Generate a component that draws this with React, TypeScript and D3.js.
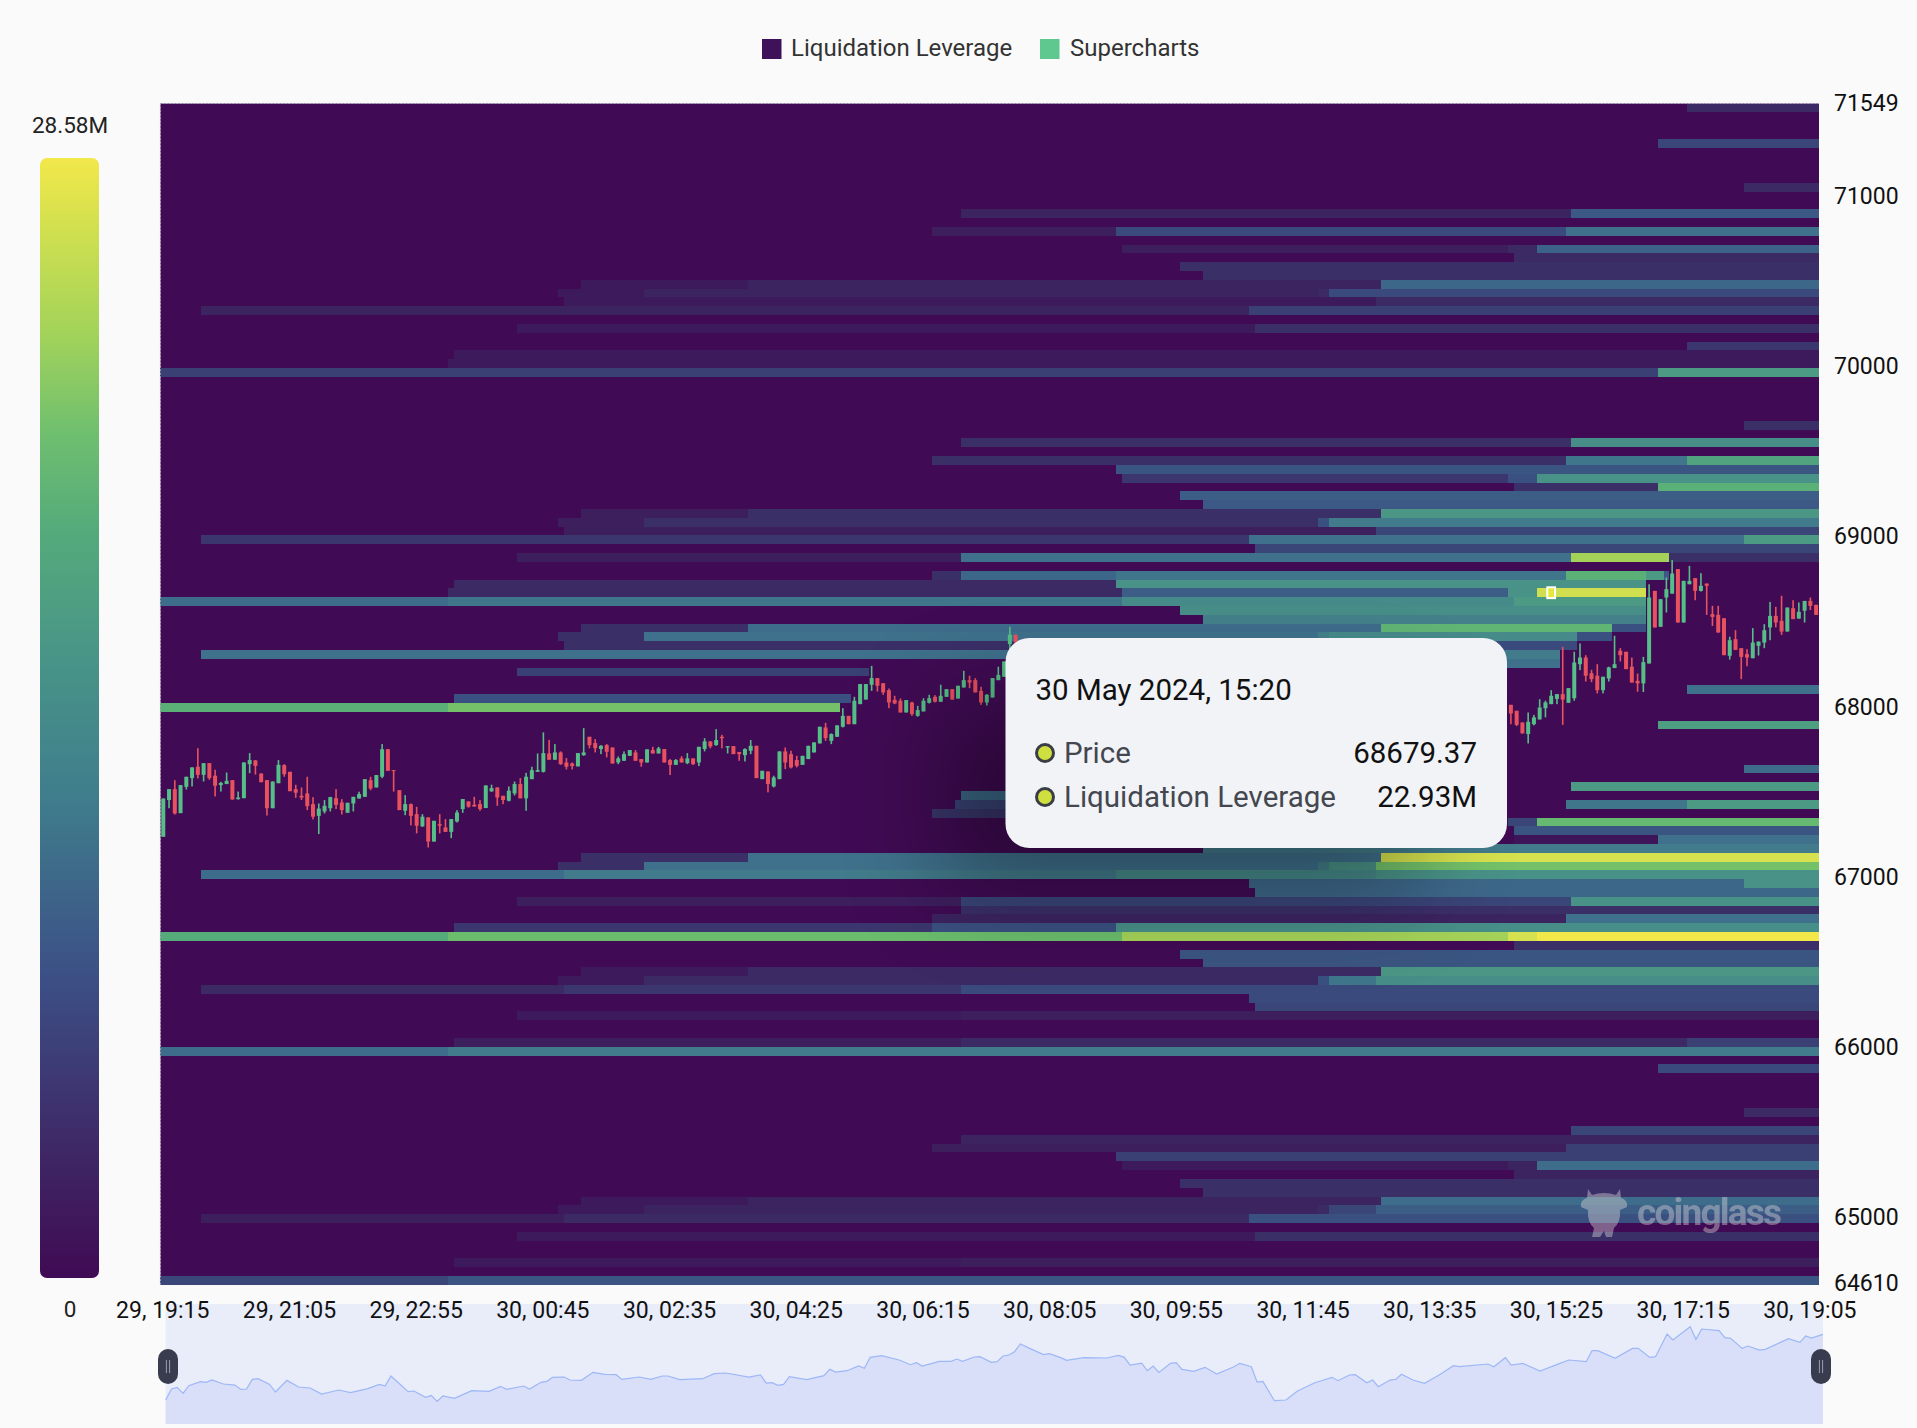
import { useEffect, useRef } from 'react';
import * as d3 from 'd3';

const WIDTH = 1917;
const HEIGHT = 1428;
const FONT = 'Roboto, sans-serif';

const legendNames = ['Liquidation Leverage', 'Supercharts'];
const xLabels = ['29, 19:15', '29, 21:05', '29, 22:55', '30, 00:45', '30, 02:35', '30, 04:25', '30, 06:15', '30, 08:05', '30, 09:55', '30, 11:45', '30, 13:35', '30, 15:25', '30, 17:15', '30, 19:05'];
const priceTicks = [71549, 71000, 70000, 69000, 68000, 67000, 66000, 65000, 64610];

// value (M) to colour, picked from the heat cells
const heatValues = [0, 1.5, 2.5, 3.5, 4.5, 6, 8, 9.5, 12, 14, 16, 18, 20, 23, 28.58];
const heatColors = ['#400b54', '#3d1a5b', '#3c2460', '#3b2f68', '#3a3f74', '#3a5080', '#3c6288', '#3f718c', '#468a89', '#4c9a84', '#55ab7a', '#6bbd6d', '#8ecb5c', '#cfdf4f', '#f2e84a'];
const legendStops: [number, string][] = [[0, '#f2e84a'], [0.067, '#cfdf4f'], [0.156, '#a3d35a'], [0.246, '#6fbf6f'], [0.33, '#55ab7a'], [0.45, '#489488'], [0.57, '#3f7d8c'], [0.73, '#3c5086'], [0.896, '#3e2563'], [1, '#400b54']];

// [row from the top, [[first candle, value in M], ...]]; a value of 0 ends the band
const heatRows: [number, number[][]][] = [
  [0, [[265, 3]]],
  [4, [[260, 5]]],
  [9, [[275, 3]]],
  [12, [[139, 2.5], [245, 7]]],
  [14, [[134, 2], [166, 5.5], [244, 9.5]]],
  [16, [[167, 2], [234, 3], [239, 8]]],
  [17, [[235, 3]]],
  [18, [[177, 3.5]]],
  [19, [[181, 3.5]]],
  [20, [[73, 1.5], [102, 2.5], [212, 8.5]]],
  [21, [[69, 1.5], [84, 2.5], [201, 3], [203, 5.5]]],
  [22, [[70, 1.5], [211, 3]]],
  [23, [[7, 2.5], [189, 4.5]]],
  [25, [[62, 1.5], [190, 3.5]]],
  [27, [[265, 4]]],
  [28, [[51, 1.5]]],
  [29, [[50, 1.5]]],
  [30, [[0, 4.5], [260, 14]]],
  [36, [[275, 3.5]]],
  [38, [[139, 3.5], [245, 12.5]]],
  [40, [[134, 3.5], [244, 10], [265, 15]]],
  [41, [[166, 6.5]]],
  [42, [[167, 4], [234, 6], [239, 13]]],
  [43, [[235, 3.5], [260, 16.5]]],
  [44, [[177, 7.5]]],
  [45, [[181, 7]]],
  [46, [[73, 2], [102, 3.5], [212, 13.5]]],
  [47, [[69, 2], [84, 3.5], [201, 6], [203, 10.5]]],
  [48, [[70, 2], [211, 5]]],
  [49, [[7, 4], [189, 9.5], [275, 14]]],
  [50, [[190, 5]]],
  [51, [[62, 2], [139, 9.5], [245, 21], [262, 3.5]]],
  [53, [[134, 3.5], [139, 8.5], [166, 10], [244, 16.5], [258, 14], [261, 7], [262, 0]]],
  [54, [[51, 3], [166, 13], [258, 0]]],
  [55, [[50, 3], [167, 7.5], [234, 13], [239, 23], [258, 0]]],
  [56, [[0, 9], [50, 10], [167, 12], [235, 14], [258, 0]]],
  [57, [[177, 12.5], [258, 0]]],
  [58, [[181, 11], [258, 0]]],
  [59, [[73, 3.5], [102, 9], [212, 17], [252, 6], [258, 0]]],
  [60, [[69, 3.5], [84, 9.5], [201, 11], [203, 12], [246, 6], [252, 0]]],
  [61, [[70, 3.5], [211, 5.5], [246, 0]]],
  [62, [[7, 9.5], [189, 10.5], [243, 0]]],
  [63, [[190, 9.5], [243, 0]]],
  [64, [[62, 4.5], [123, 0]]],
  [66, [[265, 9.5]]],
  [67, [[51, 6], [120, 0]]],
  [68, [[0, 16.5], [50, 18.5], [118, 0]]],
  [70, [[260, 14.5]]],
  [75, [[275, 9]]],
  [77, [[245, 14]]],
  [78, [[139, 9], [190, 0]]],
  [79, [[138, 5], [190, 0], [244, 10], [265, 14]]],
  [80, [[134, 4], [190, 0]]],
  [81, [[234, 5], [239, 17.5]]],
  [82, [[235, 6.5]]],
  [83, [[235, 1], [260, 9.5]]],
  [84, [[181, 10.5]]],
  [85, [[73, 3.5], [102, 9.5], [212, 24]]],
  [86, [[69, 3.5], [84, 9.5], [201, 11], [203, 13], [211, 18.5]]],
  [87, [[7, 9], [70, 10.5], [166, 12], [211, 13]]],
  [88, [[189, 8.5], [275, 13]]],
  [89, [[190, 8.5]]],
  [90, [[62, 2], [139, 5], [245, 13]]],
  [91, [[139, 3.5]]],
  [92, [[134, 2.5], [244, 9.5]]],
  [93, [[51, 4], [134, 6], [166, 12.5]]],
  [94, [[0, 16], [50, 18], [167, 21], [234, 24], [239, 28.58]]],
  [95, [[235, 3.5]]],
  [96, [[177, 6.5]]],
  [97, [[181, 6.5]]],
  [98, [[73, 1.5], [102, 3], [212, 13.5]]],
  [99, [[69, 1.5], [84, 3], [201, 6], [203, 10], [211, 12.5]]],
  [100, [[7, 3], [70, 4], [139, 5.5]]],
  [101, [[189, 5.5]]],
  [102, [[190, 5]]],
  [103, [[62, 1.5], [139, 2]]],
  [106, [[51, 2], [139, 3], [265, 4.5]]],
  [107, [[0, 9], [50, 10.5]]],
  [109, [[260, 5.5]]],
  [114, [[275, 3]]],
  [116, [[245, 5]]],
  [117, [[139, 2.5]]],
  [118, [[134, 2], [244, 4.5]]],
  [119, [[166, 4.5]]],
  [120, [[167, 1.5], [234, 2.5], [239, 9]]],
  [121, [[235, 2.5]]],
  [122, [[177, 3.5]]],
  [123, [[181, 3.5]]],
  [124, [[73, 1.5], [102, 2.5], [212, 9]]],
  [125, [[69, 1.5], [84, 2.5], [201, 3], [203, 5], [211, 7.5]]],
  [126, [[7, 2], [70, 3], [189, 6]]],
  [128, [[62, 1.5], [190, 3.5]]],
  [131, [[51, 1.5], [139, 2]]],
  [133, [[0, 5], [50, 6.5]]],
];

// [open, close, high, low], one per 5 minute candle
const candlesLeftStart = 0;
const candlesLeft: number[][] = [
  [67234, 67459, 67459, 67234], [67450, 67514, 67514, 67402], [67514, 67371, 67567, 67365], [67373, 67538, 67538, 67373],
  [67528, 67587, 67587, 67512], [67579, 67642, 67642, 67530], [67646, 67598, 67755, 67577], [67598, 67667, 67667, 67559],
  [67667, 67579, 67667, 67569], [67593, 67534, 67628, 67471], [67538, 67551, 67557, 67500], [67544, 67563, 67612, 67544],
  [67567, 67453, 67567, 67453], [67455, 67465, 67500, 67453], [67461, 67671, 67671, 67461], [67661, 67685, 67726, 67608],
  [67683, 67651, 67685, 67600], [67606, 67555, 67606, 67555], [67567, 67402, 67567, 67359], [67402, 67559, 67559, 67402],
  [67549, 67657, 67685, 67549], [67655, 67602, 67661, 67587], [67616, 67502, 67616, 67502], [67514, 67493, 67540, 67463],
  [67475, 67465, 67524, 67450], [67489, 67414, 67587, 67391], [67426, 67352, 67467, 67336], [67357, 67400, 67430, 67250],
  [67383, 67416, 67450, 67371], [67402, 67467, 67469, 67383], [67461, 67422, 67514, 67397], [67436, 67391, 67455, 67365],
  [67375, 67434, 67434, 67375], [67430, 67469, 67469, 67383], [67459, 67485, 67499, 67459], [67469, 67573, 67573, 67469],
  [67567, 67518, 67587, 67508], [67524, 67597, 67597, 67524], [67587, 67749, 67779, 67579], [67749, 67622, 67749, 67622],
  [67626, 67622, 67626, 67500], [67508, 67391, 67508, 67391], [67387, 67426, 67479, 67361], [67426, 67357, 67430, 67301],
  [67367, 67299, 67410, 67254], [67295, 67352, 67367, 67293], [67348, 67206, 67348, 67171], [67206, 67328, 67328, 67206],
  [67308, 67299, 67367, 67254], [67289, 67263, 67338, 67263], [67263, 67338, 67338, 67226], [67324, 67377, 67391, 67318],
  [67397, 67456, 67456, 67375], [67442, 67411, 67442, 67405], [67422, 67412, 67469, 67412], [67426, 67397, 67450, 67387],
  [67403, 67536, 67536, 67403], [67501, 67520, 67540, 67499], [67524, 67465, 67524, 67416], [67475, 67450, 67475, 67426],
  [67446, 67505, 67530, 67442], [67489, 67544, 67559, 67477], [67544, 67460, 67579, 67460], [67460, 67587, 67610, 67387],
  [67573, 67626, 67646, 67573], [67616, 67626, 67724, 67616], [67616, 67726, 67848, 67612], [67724, 67687, 67804, 67687],
  [67687, 67730, 67779, 67687], [67730, 67661, 67736, 67657], [67671, 67646, 67697, 67630], [67665, 67650, 67671, 67630],
  [67648, 67726, 67726, 67648], [67714, 67730, 67873, 67710], [67822, 67773, 67822, 67754], [67785, 67755, 67808, 67730],
  [67750, 67769, 67773, 67720], [67773, 67734, 67779, 67701], [67759, 67665, 67759, 67665], [67671, 67695, 67706, 67661],
  [67681, 67720, 67736, 67681], [67710, 67744, 67744, 67710], [67730, 67681, 67744, 67681], [67691, 67671, 67691, 67646],
  [67671, 67748, 67748, 67671], [67744, 67724, 67763, 67724], [67724, 67754, 67763, 67724], [67750, 67671, 67750, 67671],
  [67685, 67657, 67691, 67597], [67657, 67685, 67691, 67657], [67695, 67671, 67708, 67671], [67667, 67695, 67726, 67661],
  [67695, 67661, 67695, 67656], [67671, 67763, 67763, 67650], [67750, 67795, 67814, 67736], [67795, 67765, 67795, 67754],
  [67773, 67803, 67867, 67769], [67822, 67814, 67834, 67754], [67759, 67767, 67767, 67724], [67767, 67720, 67767, 67720],
  [67732, 67720, 67732, 67681], [67714, 67750, 67754, 67677], [67740, 67769, 67803, 67720], [67769, 67579, 67769, 67579],
  [67573, 67622, 67622, 67573], [67618, 67544, 67618, 67495], [67530, 67583, 67593, 67524], [67573, 67736, 67736, 67573],
  [67736, 67671, 67759, 67632], [67720, 67642, 67740, 67636], [67685, 67651, 67710, 67642], [67657, 67710, 67710, 67657],
  [67691, 67769, 67769, 67691], [67730, 67789, 67789, 67730], [67783, 67881, 67881, 67783], [67877, 67814, 67904, 67798],
  [67798, 67838, 67842, 67779], [67822, 67889, 67889, 67822], [67881, 67945, 67990, 67877], [67945, 67896, 67945, 67896],
  [67896, 68034, 68057, 67896], [68014, 68132, 68132, 68014], [68041, 68132, 68132, 68041], [68128, 68167, 68239, 68092],
  [68167, 68122, 68167, 68088], [68137, 68083, 68137, 68069], [68096, 68024, 68106, 67990], [68039, 68018, 68063, 68014],
  [68034, 67965, 68047, 67965], [67965, 68038, 68038, 67965], [68024, 67955, 68028, 67945], [67945, 67979, 68004, 67940],
  [67971, 68034, 68049, 67971], [68022, 68049, 68069, 68018], [68057, 68028, 68067, 68024], [68028, 68063, 68128, 68028],
  [68057, 68102, 68102, 68057], [68102, 68041, 68102, 68041], [68047, 68122, 68122, 68047], [68112, 68155, 68210, 68112],
  [68155, 68141, 68181, 68108], [68155, 68083, 68167, 68083], [68092, 68024, 68116, 68010], [68024, 68069, 68073, 68006],
  [68053, 68167, 68167, 68053], [68155, 68186, 68234, 68155], [68175, 68265, 68265, 68175], [68367, 68422, 68469, 68328],
  [68422, 68377, 68422, 68377],
];

const candlesRightStart = 234;
const candlesRight: number[][] = [
  [68010, 67959, 68010, 67896], [67975, 67892, 67975, 67885], [67906, 67842, 67906, 67842], [67838, 67910, 67965, 67783],
  [67896, 67936, 67951, 67889], [67924, 67994, 68043, 67924], [67990, 68024, 68034, 67936], [68014, 68063, 68096, 68014],
  [68045, 68073, 68073, 68014], [68073, 68041, 68351, 67892], [68022, 68108, 68108, 68022], [68049, 68259, 68322, 68034],
  [68249, 68288, 68371, 68214], [68288, 68181, 68302, 68147], [68196, 68161, 68216, 68143], [68181, 68096, 68249, 68077],
  [68096, 68175, 68175, 68077], [68165, 68230, 68234, 68147], [68226, 68249, 68416, 68226], [68328, 68302, 68343, 68265],
  [68322, 68220, 68322, 68220], [68234, 68141, 68288, 68141], [68151, 68136, 68194, 68087], [68136, 68261, 68292, 68085],
  [68253, 68641, 68719, 68253], [68680, 68465, 68680, 68465], [68469, 68631, 68631, 68469], [68641, 68690, 68759, 68553],
  [68664, 68782, 68861, 68664], [68808, 68494, 68808, 68494], [68494, 68739, 68739, 68494], [68719, 68739, 68827, 68719],
  [68755, 68680, 68755, 68625], [68680, 68710, 68784, 68676], [68723, 68710, 68723, 68539], [68543, 68527, 68592, 68474],
  [68539, 68435, 68592, 68435], [68519, 68302, 68519, 68302], [68298, 68390, 68410, 68276], [68396, 68333, 68449, 68333],
  [68343, 68292, 68343, 68161], [68308, 68288, 68337, 68237], [68284, 68376, 68461, 68284], [68357, 68382, 68382, 68300],
  [68376, 68449, 68484, 68343], [68465, 68533, 68615, 68390], [68533, 68494, 68586, 68465], [68504, 68441, 68651, 68421],
  [68441, 68582, 68582, 68441], [68578, 68514, 68625, 68514], [68517, 68557, 68612, 68517], [68563, 68621, 68621, 68494],
  [68621, 68592, 68641, 68567], [68598, 68539, 68598, 68539],
];

// [candle, price] for the overview strip under the chart
const overview: [number, number][] = [
  [0, 67459], [1, 67671], [2, 67703], [3, 67587], [4, 67735], [6, 67811], [7, 67799], [8, 67844], [10, 67767], [12, 67747],
  [13, 67664], [14, 67671], [15, 67856], [16, 67869], [18, 67760], [19, 67613], [21, 67837], [23, 67709], [25, 67690], [27, 67574],
  [30, 67651], [32, 67600], [35, 67677], [37, 67760], [38, 67728], [39, 67921], [42, 67619], [43, 67632], [45, 67510], [46, 67549],
  [47, 67433], [48, 67536], [50, 67491], [53, 67638], [56, 67626], [58, 67722], [59, 67664], [62, 67728], [63, 67671], [65, 67799],
  [66, 67818], [67, 67895], [69, 67901], [70, 67844], [72, 67837], [74, 67991], [76, 67952], [78, 67946], [79, 67856], [82, 67901],
  [84, 67856], [86, 67921], [87, 67921], [89, 67850], [93, 67869], [95, 67965], [97, 67978], [101, 67901], [103, 67940], [104, 67786],
  [105, 67792], [106, 67741], [107, 67760], [108, 67908], [111, 67850], [114, 67927], [115, 68049], [116, 67997], [118, 68023], [120, 68113],
  [121, 68068], [122, 68279], [124, 68311], [127, 68228], [129, 68138], [130, 68177], [131, 68113], [134, 68202], [136, 68202], [137, 68247],
  [138, 68203], [140, 68286], [141, 68292], [143, 68183], [144, 68196], [145, 68305], [146, 68324], [147, 68388], [148, 68536], [150, 68433],
  [152, 68331], [153, 68350], [155, 68273], [156, 68222], [159, 68273], [163, 68267], [165, 68318], [166, 68279], [167, 68132], [169, 68170],
  [170, 68023], [171, 68113], [172, 67991], [174, 68164], [175, 68177], [176, 68049], [178, 68010], [180, 68087], [182, 67959], [185, 68100],
  [186, 68164], [188, 68100], [189, 67805], [190, 67818], [192, 67446], [194, 67459], [196, 67632], [199, 67792], [200, 67824], [202, 67895],
  [203, 67831], [205, 67940], [206, 67946], [208, 67792], [209, 67843], [210, 67715], [212, 67843], [213, 67856], [214, 67953], [216, 67843],
  [218, 67780], [220, 67908], [221, 67972], [223, 68119], [224, 68100], [229, 68151], [230, 68100], [232, 68273], [233, 68132], [235, 68164],
  [238, 68017], [241, 68145], [243, 68228], [246, 68196], [247, 68408], [248, 68408], [251, 68260], [254, 68452], [255, 68452], [257, 68279],
  [258, 68292], [260, 68728], [261, 68613], [264, 68869], [265, 68626], [266, 68824], [269, 68792], [270, 68658], [271, 68645], [273, 68452],
  [274, 68497], [276, 68420], [277, 68433], [281, 68638], [283, 68568], [284, 68690], [285, 68651], [287, 68722],
];

// the hovered cell and what the tooltip reads
const hoverCell = { candle: 241, row: 55 };
const tooltipTitle = '30 May 2024, 15:20';
const tooltipRows = [['Price', '68679.37'], ['Liquidation Leverage', '22.93M']];
const colorMaxLabel = '28.58M';
const colorMinLabel = '0';

const App = () => {
  const svgRef = useRef<SVGSVGElement | null>(null);

  useEffect(() => {
    if (!svgRef.current) return;
    const svg = d3.select(svgRef.current);
    svg.selectAll('*').remove();

    const plot = { left: 160.4, right: 1819, top: 103.5, bottom: 1284.7 };
    const x = d3.scaleBand<number>().domain(d3.range(288)).range([plot.left, plot.right]);
    const rows = d3.scaleBand<number>().domain(d3.range(134)).range([plot.top, plot.bottom]);
    const price = d3.scaleLinear().domain([64610, 71549]).range([1283, 103]);
    const heat = d3.scaleLinear<string>().domain(heatValues).range(heatColors);

    svg.append('rect').attr('width', WIDTH).attr('height', HEIGHT).attr('fill', '#fafafa');

    const defs = svg.append('defs');
    const grad = defs.append('linearGradient').attr('id', 'scale').attr('x1', 0).attr('x2', 0).attr('y1', 0).attr('y2', 1);
    legendStops.forEach(([o, c]) => grad.append('stop').attr('offset', o).attr('stop-color', c));
    defs.append('filter').attr('id', 'blur').attr('x', '-60%').attr('y', '-100%').attr('width', '220%').attr('height', '300%')
      .append('feGaussianBlur').attr('stdDeviation', 48);

    // legend on top
    svg.append('rect').attr('x', 762).attr('y', 39).attr('width', 19.5).attr('height', 20).attr('fill', '#3f1158');
    svg.append('rect').attr('x', 1040).attr('y', 39).attr('width', 19.5).attr('height', 20).attr('fill', '#5fc88f');
    const legendText = (tx: number, t: string) => svg.append('text').attr('x', tx).attr('y', 56)
      .attr('font-family', FONT).attr('font-size', 24).attr('fill', '#333').text(t);
    legendText(791, legendNames[0]);
    legendText(1070, legendNames[1]);

    // colour scale on the left
    svg.append('rect').attr('x', 40).attr('y', 158).attr('width', 59).attr('height', 1120).attr('rx', 7).attr('fill', 'url(#scale)');
    const scaleText = (ty: number, t: string) => svg.append('text').attr('x', 70).attr('y', ty).attr('text-anchor', 'middle')
      .attr('font-family', FONT).attr('font-size', 22.5).attr('fill', '#222').text(t);
    scaleText(133, colorMaxLabel);
    scaleText(1317, colorMinLabel);

    // overview strip
    const ovX = d3.scaleLinear().domain([0, 287]).range([165.7, 1823]);
    const ovY = d3.scaleLinear().domain([66998, 69305]).range([1424, 1304]);
    svg.append('rect').attr('x', 165.7).attr('y', 1304).attr('width', 1657.3).attr('height', 120).attr('fill', '#e9ecf9');
    svg.append('path').datum(overview).attr('fill', '#d9dff8')
      .attr('d', d3.area<[number, number]>().x(d => ovX(d[0])).y0(1424).y1(d => ovY(d[1])));
    svg.append('path').datum(overview).attr('fill', 'none').attr('stroke', '#9db7f7').attr('stroke-width', 1.2)
      .attr('d', d3.line<[number, number]>().x(d => ovX(d[0])).y(d => ovY(d[1])));
    [168, 1821].forEach(hx => {
      svg.append('rect').attr('x', hx - 10).attr('y', 1349).attr('width', 20).attr('height', 35).attr('rx', 10).attr('fill', '#383c4e');
      [-1.6, 1.6].forEach(dx => svg.append('line').attr('x1', hx + dx).attr('x2', hx + dx).attr('y1', 1360).attr('y2', 1373)
        .attr('stroke', '#9a9dac').attr('stroke-width', 1));
    });

    // heat map
    svg.append('rect').attr('x', plot.left).attr('y', plot.top).attr('width', plot.right - plot.left).attr('height', plot.bottom - plot.top).attr('fill', '#400b54');
    const cells = heatRows.flatMap(([row, segs]) => segs.map((s, i) => ({
      row, start: s[0], value: s[1], end: i + 1 < segs.length ? segs[i + 1][0] : 288,
    }))).filter(d => d.value > 0);
    svg.append('g').attr('shape-rendering', 'crispEdges').selectAll('rect').data(cells).enter().append('rect')
      .attr('x', d => x(d.start) as number)
      .attr('y', d => rows(d.row) as number)
      .attr('width', d => (d.end < 288 ? (x(d.end) as number) : plot.right) - (x(d.start) as number))
      .attr('height', rows.step())
      .attr('fill', d => heat(d.value));

    // dotted plot edge
    svg.append('path').attr('d', `M${plot.left},${plot.bottom}V${plot.top}H${plot.right}`).attr('fill', 'none')
      .attr('stroke', '#b5a6c0').attr('stroke-width', 1).attr('stroke-dasharray', '2 1.5');

    // hovered cell
    svg.append('rect').attr('x', (x(hoverCell.candle) as number) - 1).attr('y', (rows(hoverCell.row) as number) - 1)
      .attr('width', x.step() + 2).attr('height', rows.step() + 2)
      .attr('fill', '#e4e83a').attr('stroke', '#fff').attr('stroke-width', 2);

    // candles
    const candleData = [
      ...candlesLeft.map((c, i) => ({ i: candlesLeftStart + i, c })),
      ...candlesRight.map((c, i) => ({ i: candlesRightStart + i, c })),
    ];
    const candle = svg.append('g').selectAll('g').data(candleData).enter().append('g');
    const colorOf = (c: number[]) => (c[1] >= c[0] ? '#55bf87' : '#e8525f');
    const bodyW = 4;
    candle.append('rect')
      .attr('x', d => (x(d.i) as number) + x.step() / 2 - 0.8)
      .attr('y', d => price(d.c[2]))
      .attr('width', 1.6)
      .attr('height', d => price(d.c[3]) - price(d.c[2]))
      .attr('fill', d => colorOf(d.c));
    candle.append('rect')
      .attr('x', d => (x(d.i) as number) + x.step() / 2 - bodyW / 2)
      .attr('y', d => price(Math.max(d.c[0], d.c[1])))
      .attr('width', bodyW)
      .attr('height', d => Math.max(1, Math.abs(price(d.c[0]) - price(d.c[1]))))
      .attr('fill', d => colorOf(d.c));

    // watermark
    const mark = svg.append('g').attr('opacity', 0.42).attr('fill', '#d9d9d9');
    mark.append('path').attr('d', 'M1588,1189 L1592,1195 Q1604,1191 1616,1195 L1620,1189 L1621,1198 Q1628,1200 1627,1207 L1620,1210 Q1621,1222 1614,1228 L1612,1237 L1606,1237 L1604,1231 L1600,1237 L1592,1237 L1594,1228 Q1587,1222 1588,1210 L1581,1207 Q1580,1200 1587,1198 Z');
    mark.append('text').attr('x', 1637).attr('y', 1225).attr('font-family', FONT).attr('font-weight', 700)
      .attr('font-size', 37).attr('textLength', 145).text('coinglass');

    // axis labels
    xLabels.forEach((t, i) => {
      svg.append('text').attr('x', (x(i * 22) as number) + x.step() / 2 - 0.5).attr('y', 1318).attr('text-anchor', 'middle')
        .attr('font-family', FONT).attr('font-size', 23).attr('fill', '#111').text(t);
    });
    priceTicks.forEach(p => {
      svg.append('text').attr('x', 1834).attr('y', price(p) + 8).attr('font-family', FONT)
        .attr('font-size', 23).attr('fill', '#111').text(p);
    });

    // tooltip shadow and box
    svg.append('rect').attr('x', 940).attr('y', 700).attr('width', 480).attr('height', 190)
      .attr('fill', '#000').attr('opacity', 0.34).attr('filter', 'url(#blur)');
    svg.append('rect').attr('x', 1005.5).attr('y', 638).attr('width', 501.5).attr('height', 210).attr('rx', 24).attr('fill', '#f1f3f7');
    svg.append('text').attr('x', 1035.5).attr('y', 700).attr('font-family', FONT).attr('font-size', 29.5).attr('fill', '#111').text(tooltipTitle);
    tooltipRows.forEach(([k, v], i) => {
      const ty = 763 + i * 44;
      svg.append('circle').attr('cx', 1045).attr('cy', ty - 10).attr('r', 8.5).attr('fill', '#cfdf3f').attr('stroke', '#3a3d46').attr('stroke-width', 3);
      svg.append('text').attr('x', 1064).attr('y', ty).attr('font-family', FONT).attr('font-size', 29.5).attr('fill', '#44474f').text(k);
      svg.append('text').attr('x', 1477).attr('y', ty).attr('text-anchor', 'end').attr('font-family', FONT).attr('font-size', 29.5).attr('fill', '#111').text(v);
    });
  }, []);

  return (
    <svg
      ref={svgRef}
      width={WIDTH}
      height={HEIGHT}
      style={{ position: 'absolute', left: 0, top: 0, display: 'block' }}
    />
  );
};

export default App;
